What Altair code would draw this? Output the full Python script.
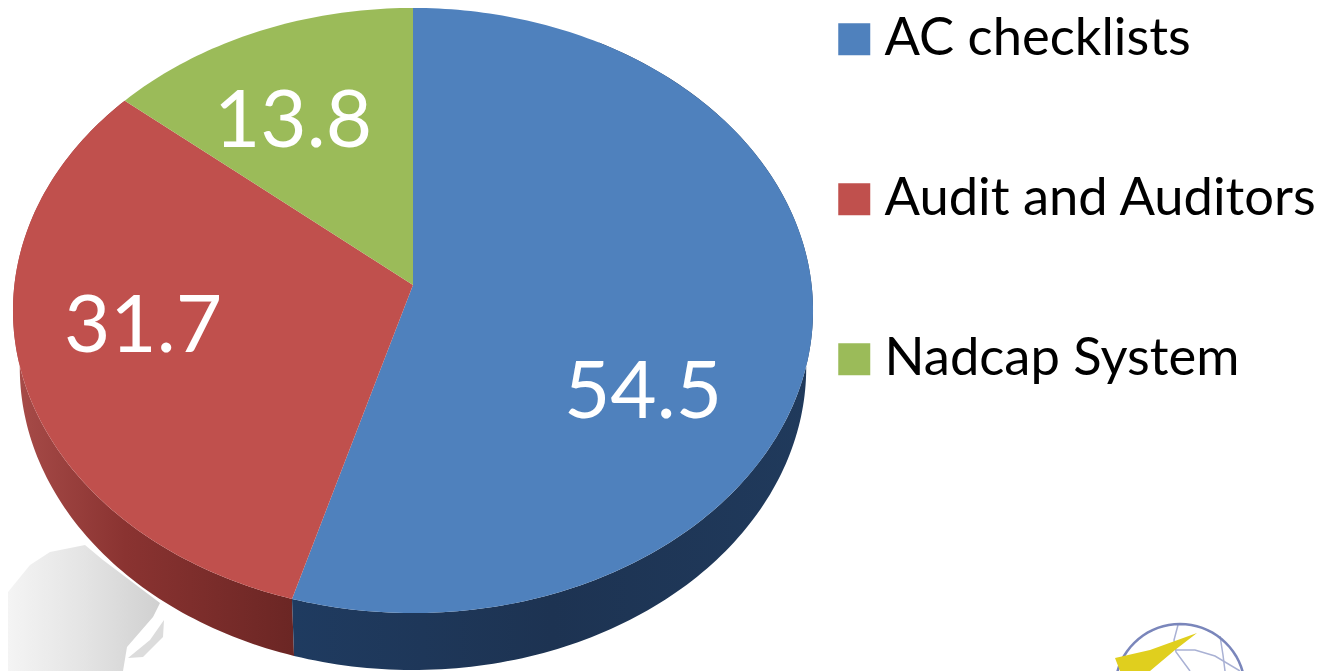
import math
import altair as alt

categories = ["AC checklists", "Audit and Auditors", "Nadcap System"]
values = [54.5, 31.7, 13.8]
colors = ["#4F81BD", "#C0504D", "#9BBB59"]
label_pixels = [(643, 394), (143, 328), (293, 123)]

# pie geometry: perspective view of a tilted disc, apex at (APEX_X, APEX_Y) on the page
APEX_X, APEX_Y = 413, 285
K, B, A = 398.6, 300.4, 0.0843
DEPTH, BOTTOM_SHRINK = 57, 0.983


def rim(deg, shrink=1.0, drop=0.0):
    t = math.radians(deg)
    u, v = math.sin(t), math.cos(t)
    d = 1 + A * v
    return [K * u / d * shrink, B * v / d - drop]


def page(x, y):
    return [x - APEX_X, APEX_Y - y]


def feature(ring, **props):
    return {"type": "Feature", "properties": props,
            "geometry": {"type": "Polygon", "coordinates": [ring + [ring[0]]]}}


def line_feature(pts):
    return {"type": "Feature", "properties": {},
            "geometry": {"type": "LineString", "coordinates": [page(*p) for p in pts]}}


def arc(a0, a1, **kw):
    n = max(2, int(abs(a1 - a0)))
    return [rim(a0 + (a1 - a0) * i / n, **kw) for i in range(n + 1)]


bounds = [0.0]
for v_ in values:
    bounds.append(bounds[-1] + v_ * 3.6)

tops = [feature([[0.0, 0.0]] + arc(bounds[i], bounds[i + 1]), name=categories[i])
        for i in range(3)]


def side(a0, a1):
    return feature(arc(a0, a1) + arc(a1, a0, shrink=BOTTOM_SHRINK, drop=DEPTH))


def grad(stops):
    return alt.Gradient(gradient="linear", x1=0, x2=1, y1=0, y2=0,
                        stops=[alt.GradientStop(offset=o, color=c) for o, c in stops])


def shape(feats, **kw):
    return alt.Chart(alt.Data(values=feats)).mark_geoshape(**kw)


# faint decoration behind the pie
map_outline = [(8, 592), (30, 565), (50, 552), (85, 545), (103, 560), (160, 603), (153, 617),
               (127, 647), (123, 671), (8, 671)]
japan_outline = [(164, 620), (163, 637), (143, 657), (128, 658), (150, 640)]
swoosh_outline = [(1197, 633), (1150, 650), (1115, 658), (1120, 671), (1150, 671), (1175, 650)]
globe_cx, globe_cy, globe_r = 1180, 689, 65
globe_top = [(globe_cx + globe_r * math.cos(math.radians(a)),
              globe_cy - globe_r * math.sin(math.radians(a))) for a in range(15, 166, 5)]
globe_lines = [[(1178, 625), (1174, 640), (1176, 652), (1190, 671)],
               [(1176, 650), (1195, 650), (1215, 656), (1240, 671)],
               [(1220, 636), (1223, 655), (1225, 671)]]

bg_map = shape([feature([page(*p) for p in map_outline])], strokeWidth=0,
               fill=grad([(0, "#f4f4f4"), (0.5, "#e4e4e4"), (1, "#d0d0d0")]))
bg_japan = shape([feature([page(*p) for p in japan_outline])], strokeWidth=0, fill="#dcdcdc")
logo_lines = shape([line_feature(g) for g in globe_lines], fill="transparent",
                   stroke="#a9b1d4", strokeWidth=1.5)
logo_ring = shape([line_feature(globe_top)], fill="transparent", stroke="#7a86bb", strokeWidth=2.5)
logo_sw = shape([feature([page(*p) for p in swoosh_outline])], strokeWidth=0, fill="#E0CF1E")

side_red = shape([side(bounds[1], bounds[2])], strokeWidth=0,
                 fill=grad([(0, "#a84c49"), (0.4, "#8a3331"), (1, "#6b2624")]))
side_blue = shape([side(30, bounds[1])], strokeWidth=0,
                  fill=grad([(0, "#1f3b60"), (0.5, "#1d3352"), (1, "#203a5c")]))

top = shape(tops, strokeWidth=0).encode(
    color=alt.Color(
        "properties.name:N",
        scale=alt.Scale(domain=categories, range=colors),
        legend=alt.Legend(
            title=None, orient="none", legendX=820, legendY=5,
            symbolType="square", symbolSize=1024, symbolStrokeWidth=0, symbolOpacity=1,
            labelFont="Lato", labelFontSize=52.5, labelColor="#000000", labelOffset=4,
            rowPadding=107, labelLimit=600,
        ),
    )
)

labels = alt.Chart(alt.Data(values=[
    {"lon": page(*p)[0], "lat": page(*p)[1], "t": f"{v_:.1f}"}
    for p, v_ in zip(label_pixels, values)
])).mark_text(font="Lato", fontSize=80, color="white", align="center", baseline="middle").encode(
    longitude="lon:Q", latitude="lat:Q", text="t:N"
)

chart = alt.layer(bg_map, bg_japan, logo_lines, logo_ring, logo_sw, side_red, side_blue, top, labels).project(
    type="identity", reflectY=True, scale=1, translate=[APEX_X - 8, APEX_Y - 8]
).properties(width=1312, height=663, padding=0, background="white",
             autosize=alt.AutoSizeParams(type="none")).configure_view(stroke=None)

chart.save("out.html", embed_options={"renderer": "svg", "actions": False})
